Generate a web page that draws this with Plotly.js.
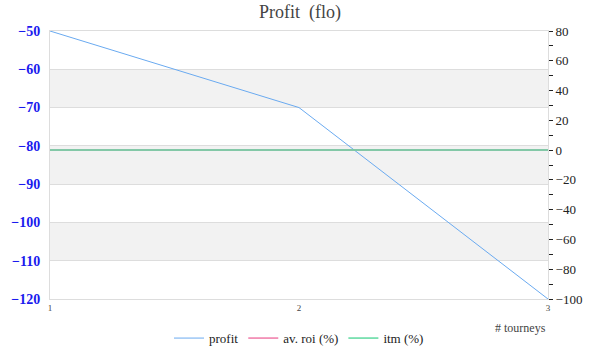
<!DOCTYPE html>
<html>
<head>
<meta charset="utf-8">
<script src="https://cdn.plot.ly/plotly-3.0.1.min.js"></script>
<style>html,body{margin:0;padding:0;background:#fff;}#chart{width:600px;height:360px;}</style>
</head>
<body>
<div id="chart"></div>
<script>
const tourneys = [1, 2, 3];
const profit = [-50, -70, -120];
const avRoi = [0, 0, 0];
const itm = [0, 0, 0];
const leftRange = [-120, -50];
const rightRange = [-100, 80];
const bandRanges = [[-70, -60], [-90, -80], [-110, -100]];

const serif = '"Liberation Serif", "DejaVu Serif", serif';

const traces = [
  {x: tourneys, y: profit, name: 'profit', type: 'scatter', mode: 'lines',
   line: {color: '#6aaaf0', width: 1}, yaxis: 'y'},
  {x: tourneys, y: avRoi, name: 'av. roi (%)', type: 'scatter', mode: 'lines',
   line: {color: '#f07aa8', width: 1.5}, yaxis: 'y2'},
  {x: tourneys, y: itm, name: 'itm (%)', type: 'scatter', mode: 'lines',
   line: {color: '#5ed9a0', width: 1.5}, yaxis: 'y2'}
];

const shapes = bandRanges.map(r => ({
  type: 'rect', xref: 'paper', yref: 'y', x0: 0, x1: 1, y0: r[0], y1: r[1],
  fillcolor: '#f2f2f2', line: {width: 0}, layer: 'below'
}));

const layout = {
  width: 600, height: 360,
  margin: {l: 50, r: 52, t: 31, b: 61, autoexpand: false},
  paper_bgcolor: '#fff', plot_bgcolor: '#fff',
  title: {text: 'Profit  (flo)', x: 0.5, xanchor: 'center', y: 0.985, yanchor: 'top',
          font: {family: serif, size: 18, color: '#444'}},
  font: {family: serif},
  showlegend: true,
  legend: {orientation: 'h', x: 0.5, xanchor: 'center', y: -0.09, yanchor: 'top',
           font: {family: serif, size: 13, color: '#222'}, itemwidth: 30, tracegroupgap: 0},
  xaxis: {range: [1, 3], tickvals: tourneys, ticktext: tourneys.map(String),
          showgrid: false, zeroline: false, showline: true, linecolor: '#ddd', linewidth: 1,
          mirror: true, ticks: '', tickfont: {family: serif, size: 9, color: '#444'}},
  yaxis: {range: leftRange, dtick: 10, tick0: -120, showgrid: true, gridcolor: '#dddddd',
          zeroline: false, showline: true, linecolor: '#ddd', ticks: '', ticklabelstandoff: 6,
          tickfont: {family: serif, size: 14, color: '#1a1aee', weight: 'bold'}},
  yaxis2: {range: rightRange, dtick: 20, tick0: -100, overlaying: 'y', side: 'right',
           showgrid: false, zeroline: false, showline: true, linecolor: '#ddd',
           ticks: 'outside', ticklen: 4, tickcolor: '#222',
           minor: {dtick: 10, ticks: 'outside', ticklen: 4, tickcolor: '#222'},
           tickfont: {family: serif, size: 13, color: '#222'}},
  shapes: shapes,
  annotations: [{text: '# tourneys', xref: 'paper', yref: 'paper', x: 1, xanchor: 'right',
                 y: -0.075, yanchor: 'top', showarrow: false,
                 font: {family: serif, size: 12, color: '#444'}}]
};

Plotly.newPlot('chart', traces, layout, {displayModeBar: false, staticPlot: true});
</script>
</body>
</html>
